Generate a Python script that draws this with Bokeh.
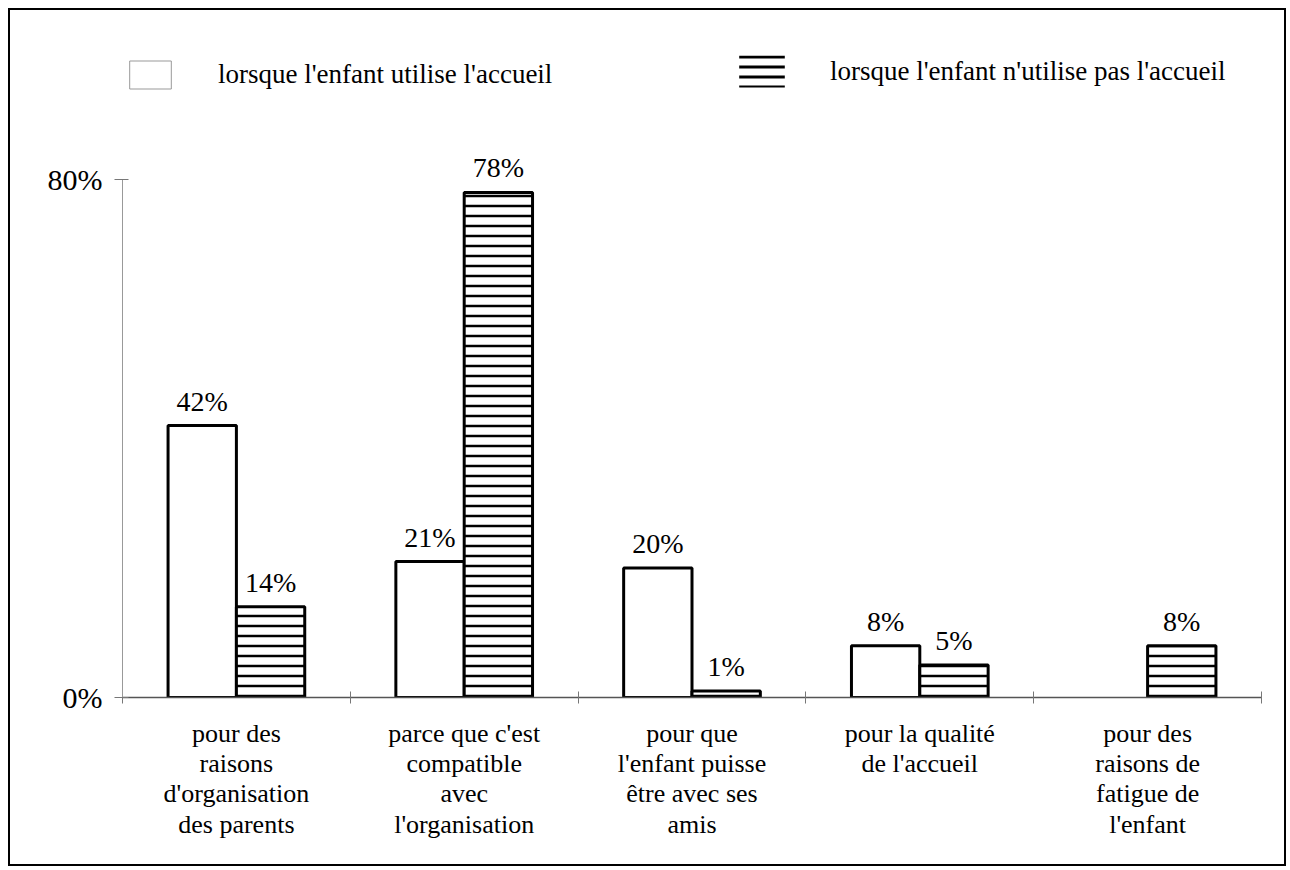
from bokeh.plotting import figure
from bokeh.models import (ColumnDataSource, Range1d, FixedTicker, Legend, LegendItem,
                          InlineStyleSheet)
from bokeh.embed import file_html
from bokeh.resources import INLINE
import numpy as np

# ---- data ----
categories = [
    "pour des\nraisons\nd'organisation\ndes parents",
    "parce que c'est\ncompatible\navec\nl'organisation",
    "pour que\nl'enfant puisse\nêtre avec ses\namis",
    "pour la qualité\nde l'accueil",
    "pour des\nraisons de\nfatigue de\nl'enfant",
]
series_names = ["lorsque l'enfant utilise l'accueil",
                "lorsque l'enfant n'utilise pas l'accueil"]
utilise = [42, 21, 20, 8, 0]
n_utilise = [14, 78, 1, 5, 8]
y_ticks = [0, 80]
y_tick_labels = ["0%", "80%"]

FONT = "Liberation Serif"
W, H = 1288, 868

centers = np.arange(len(categories)) + 0.5
BW = 0.3

def make_src(vals, shift):
    xs = [c + shift for c, v in zip(centers, vals) if v > 0]
    ys = [v for v in vals if v > 0]
    return ColumnDataSource(dict(x=xs, top=ys, label=[f"{v}%" for v in ys]))

src_u = make_src(utilise, -BW / 2)
src_n = make_src(n_utilise, BW / 2)

frame_css = InlineStyleSheet(css="""
:host::after {
  content: '';
  position: absolute;
  left: 8px; top: 8px; right: 2px; bottom: 2px;
  border: 2.5px solid black;
  pointer-events: none;
  z-index: 100;
}
""")

p = figure(width=W, height=H, output_backend="svg", toolbar_location=None,
           x_range=Range1d(0, len(categories)), y_range=Range1d(0, 104.86),
           min_border_left=122, min_border_right=W - 1261, min_border_top=18,
           min_border_bottom=H - 697, stylesheets=[frame_css])
p.outline_line_color = None
p.xgrid.visible = False
p.ygrid.visible = False
p.background_fill_color = "white"
p.border_fill_color = "white"

r_u = p.vbar(x="x", top="top", width=BW, source=src_u, fill_color="white",
             line_color="black", line_width=3)
r_n = p.vbar(x="x", top="top", width=BW, source=src_n, fill_color="white",
             line_color="black", line_width=3, hatch_pattern="horizontal_line",
             hatch_scale=10, hatch_weight=2.5, hatch_color="black")

for src in (src_u, src_n):
    p.text(x="x", y="top", text="label", source=src, text_align="center",
           text_baseline="bottom", y_offset=-9, text_font=FONT,
           text_font_size="28px", text_color="black")

# legend-only renderers (single hidden sample, outside the visible x range)
leg_u = p.vbar(x=[-5], top=[1], width=BW, fill_color="white", line_color="#999999",
               line_width=1)
leg_n = p.vbar(x=[-5], top=[1], width=BW, fill_color="white", line_alpha=0,
               hatch_pattern="horizontal_line", hatch_scale=10, hatch_weight=3,
               hatch_color="black")
common = dict(orientation="horizontal", padding=0, margin=0, border_line_alpha=0,
              background_fill_alpha=0, label_text_font=FONT,
              label_text_font_size="27px", label_text_color="black")
legend1 = Legend(items=[LegendItem(label=series_names[0], renderers=[leg_u])],
                 location=(2, 697 - 92), glyph_width=52, glyph_height=35,
                 label_standoff=42, **common)
legend2 = Legend(items=[LegendItem(label=series_names[1], renderers=[leg_n])],
                 location=(733 - 122, 697 - 91), glyph_width=57, glyph_height=40,
                 label_standoff=40, **common)
p.add_layout(legend1, "center")
p.add_layout(legend2, "center")

# y axis
ya = p.yaxis[0]
ya.ticker = FixedTicker(ticks=y_ticks, minor_ticks=[])
ya.major_label_overrides = {t: l for t, l in zip(y_ticks, y_tick_labels)}
ya.bounds = (0, 80)
ya.axis_line_color = "#999999"
ya.axis_line_width = 1
ya.major_tick_line_color = "#777777"
ya.major_tick_out = 8
ya.major_tick_in = 6
ya.minor_tick_line_color = None
ya.major_label_text_font = FONT
ya.major_label_text_font_size = "30px"
ya.major_label_text_color = "black"
ya.major_label_standoff = 12

# x axis
xa = p.xaxis[0]
xa.ticker = FixedTicker(ticks=list(centers), minor_ticks=list(range(len(categories) + 1)))
xa.major_label_overrides = {float(c): lab for c, lab in zip(centers, categories)}
xa.axis_line_color = "#555555"
xa.axis_line_width = 1.5
xa.major_tick_in = 0
xa.major_tick_out = 0
xa.minor_tick_in = 6
xa.minor_tick_out = 6
xa.minor_tick_line_color = "#777777"
xa.major_label_text_font = FONT
xa.major_label_text_font_size = "26px"
xa.major_label_text_color = "black"
xa.major_label_text_line_height = 1.05
xa.major_label_standoff = 15

open("out.html", "w").write(file_html(p, INLINE))
